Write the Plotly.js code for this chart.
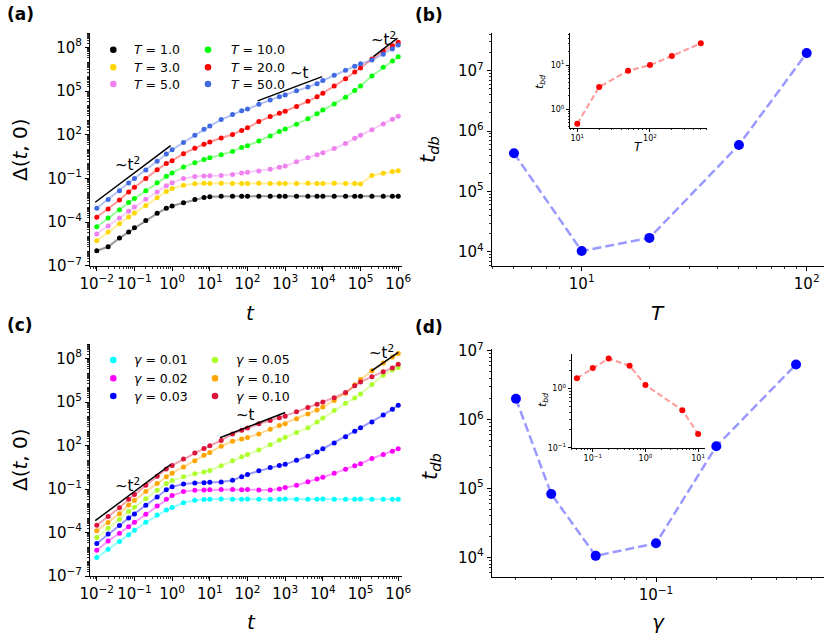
<!DOCTYPE html>
<html><head><meta charset="utf-8">
<script src="https://cdn.plot.ly/plotly-3.0.1.min.js"></script>
<style>body{margin:0;background:#fff}#plot{width:831px;height:642px}</style>
</head><body><div id="plot"></div>
<script>
// ---------- data: panel (a) ----------
const tGrid = [0.01,0.02,0.04,0.07, 0.1,0.2,0.4,0.7, 1,2,4,7, 10,20,40,70, 100,200,400,700,
  1e3,2e3,4e3,7e3, 1e4,2e4,4e4,7e4, 1e5,2e5,4e5,7e5, 1e6];
const labelsA = ['T = 1.0','T = 3.0','T = 5.0','T = 10.0','T = 20.0','T = 50.0'];
const dA_T1 = [1.07e-6,2.0e-6,7.9e-6,2.1e-5,4.0e-5,1.26e-4,4.0e-4,8.9e-4,1.26e-3,2.14e-3,3.55e-3,4.8e-3,5.5e-3,
  5.9e-3,6.0e-3,5.9e-3,5.95e-3,6.0e-3,5.9e-3,5.95e-3,5.9e-3,6.0e-3,5.95e-3,5.9e-3,5.95e-3,6.0e-3,5.9e-3,5.95e-3,5.9e-3,5.95e-3,5.9e-3,5.95e-3,5.9e-3];
const dA_T3 = [5.2e-6,2.1e-5,7.6e-5,2.2e-4,4.2e-4,1.4e-3,4.7e-3,1.26e-2,2.0e-2,3.4e-2,4.3e-2,4.6e-2,
  4.5e-2,4.6e-2,4.5e-2,4.4e-2,4.5e-2,4.6e-2,4.5e-2,4.5e-2,4.4e-2,4.5e-2,4.6e-2,4.5e-2,4.5e-2,4.6e-2,4.4e-2,4.5e-2,
  4.1e-2,0.16,0.23,0.30,0.34];
const dA_T5 = [1.5e-5,5.4e-5,1.9e-4,5.6e-4,1.1e-3,3.7e-3,1.17e-2,3.2e-2,5.0e-2,0.10,0.135,0.15,0.155,0.16,0.19,0.24,
  0.27,0.32,0.42,0.58,0.72,1.38,2.6,4.2,5.8,11.5,25,59,93,224,550,1170,1900];
const dA_T10 = [4.8e-5,1.9e-4,7.1e-4,2.2e-3,4.2e-3,1.41e-2,5.0e-2,0.141,0.24,0.60,1.2,2.0,2.6,4.2,7.2,13.2,17.8,38,83,
  166,251,525,1260,2800,5000,1.32e4,3.8e4,1.12e5,2.24e5,1.12e6,4.5e6,1.2e7,2.3e7];
const dA_T20 = [2.14e-4,7.9e-4,3.3e-3,1.17e-2,2.5e-2,0.10,0.40,1.05,1.66,5.0,12,22,32,60,105,200,300,830,1780,3000,
  4200,8900,2.0e4,4.2e4,7.2e4,2.24e5,7.1e5,2.1e6,4.0e6,1.66e7,5.75e7,1.32e8,2.3e8];
const dA_T50 = [8.9e-4,3.5e-3,1.41e-2,4.8e-2,0.10,0.38,1.51,4.8,9.3,30,93,240,400,1120,2500,4500,6000,1.26e4,2.5e4,
  4.2e4,5.5e4,1.05e5,1.9e5,3.3e5,5.4e5,1.26e6,2.8e6,5.2e6,7.6e6,1.38e7,3.5e7,7.9e7,1.5e8];
const colorsA = [[0,0,0],[255,215,0],[238,130,238],[0,255,0],[255,0,0],[65,105,225]];

// ---------- data: panel (c) ----------
const labelsC = ['γ = 0.01','γ = 0.02','γ = 0.03','γ = 0.05','γ = 0.10','γ = 0.10'];
const dC_g01 = [1.86e-6,7.1e-6,2.4e-5,7.1e-5,1.41e-4,5.0e-4,1.58e-3,3.55e-3,5.4e-3,1.12e-2,1.66e-2,1.9e-2,
  2.0e-2,2.05e-2,2.0e-2,1.95e-2,2.05e-2,2.0e-2,2.0e-2,1.95e-2,2.05e-2,2.0e-2,1.95e-2,2.0e-2,2.05e-2,2.0e-2,1.95e-2,
  2.0e-2,2.05e-2,1.95e-2,2.0e-2,2.0e-2,1.95e-2];
const dC_g02 = [6.0e-6,2.6e-5,8.9e-5,2.5e-4,5.0e-4,1.8e-3,6.6e-3,2.0e-2,3.5e-2,6.6e-2,8.3e-2,8.7e-2,8.9e-2,9.1e-2,9.3e-2,
  8.9e-2,9.1e-2,8.7e-2,8.7e-2,0.10,0.126,0.178,0.32,0.48,0.65,1.2,2.3,4.0,5.6,12.6,24,40,59];
const dC_g03 = [1.74e-5,7.8e-5,3.0e-4,1.0e-3,1.9e-3,7.6e-3,2.8e-2,8.9e-2,0.141,0.224,0.263,0.275,0.29,0.30,0.40,0.71,
  1.0,1.78,3.0,4.2,5.0,9.5,17.8,35,59,151,400,955,1660,4200,1.26e4,3.2e4,6.0e4];
const dC_g05 = [4.5e-5,2.0e-4,8.3e-4,2.8e-3,5.5e-3,2.14e-2,8.3e-2,0.24,0.38,0.69,1.12,1.51,1.9,4.0,8.9,16.6,24,48,112,
  240,370,794,1660,4170,7940,2.6e4,8.3e4,1.9e5,3.55e5,1.58e6,7.1e6,1.58e7,2.4e7];
const dC_g10a = [1.32e-4,4.9e-4,2.0e-3,7.9e-3,1.66e-2,6.6e-2,0.24,0.71,1.23,3.3,8.9,21,33,89,200,282,355,631,1320,
  2400,3160,7080,1.51e4,2.8e4,4.5e4,1.26e5,4.0e5,1.51e6,3.55e6,1.41e7,4.8e7,1.26e8,2.24e8];
const dC_g10b = [3.2e-4,1.29e-3,5.0e-3,2.0e-2,4.2e-2,0.178,0.76,2.4,4.2,11.5,30,63,95,224,631,1120,1580,3160,5250,
  8300,1.05e4,2.1e4,4.2e4,7.1e4,1.0e5,2.0e5,4.5e5,1.32e6,2.4e6,5.6e6,1.2e7,2.24e7,4.0e7];
const colorsC = [[0,255,255],[255,0,255],[0,0,255],[173,255,47],[255,165,0],[220,20,60]];

// ---------- guide lines ----------
const guideA = [
  {x:[0.0091,0.912], y:[2.3e-3,18.2]},
  {x:[186,9550], y:[2.14e4,1.0e6]},
  {x:[2.19e5,9.55e5], y:[2.4e7,4.47e8]}];
const guideC = [
  {x:[0.0091,0.912], y:[6.5e-4,4.9]},
  {x:[18.6,1000], y:[339,1.9e4]},
  {x:[1.95e5,1.0e6], y:[1.41e7,2.6e8]}];

// ---------- data: panel (b) ----------
const T_b = [5,10,20,50,100];
const tdb_b = [4.3e5,1.03e4,1.7e4,5.9e5,1.96e7];
const T_bIn = [10,20,50,100,200,500];
const tbd_bIn = [0.47,3.2,7.4,10,16,31];

// ---------- data: panel (d) ----------
const g_d = [0.02,0.03,0.05,0.1,0.2,0.5];
const tdb_d = [2.0e6,8.3e4,1.05e4,1.6e4,4.1e5,6.3e6];
const g_dIn = [0.05,0.1,0.2,0.5,1,5,10];
const tbd_dIn = [1.48,2.2,3.2,2.4,1.14,0.43,0.17];

// ---------- tick labels ----------
const tickX_ac = [1e-2,1e-1,1,10,1e2,1e3,1e4,1e5,1e6];
const tickY_ac = [1e-7,1e-4,1e-1,1e2,1e5,1e8];
const tickX_b = [10,100], tickY_b = [1e4,1e5,1e6,1e7];
const tickX_d = [0.1], tickY_d = [1e4,1e5,1e6,1e7];
const tickX_bIn = [10,100], tickY_bIn = [1,10];
const tickX_dIn = [0.1,1,10], tickY_dIn = [0.1,1];

// ---------- helpers ----------
const W = 831, H = 642;
const FONT = 'DejaVu Sans';
function pow10Label(v){
  const e = Math.round(Math.log10(v));
  return '10<sup>' + (e<0 ? '\u2212'+(-e) : e) + '</sup>';
}
function minorVals(lo, hi, majors){
  const out=[];
  for(let n=lo;n<=hi;n++) for(let k=1;k<=9;k++){
    const v=k*Math.pow(10,n);
    if(!majors.some(m=>Math.abs(m/v-1)<1e-9)) out.push(v);
  }
  return out;
}
function axis(domain, range, tv, anchor, fs, tl, mlo, mhi){
  return {type:'log', domain, range, anchor, tickmode:'array', tickvals:tv, ticktext:tv.map(pow10Label),
    showgrid:false, zeroline:false, showline:true, linecolor:'black', linewidth:1,
    ticks:'outside', ticklen:tl, tickwidth:1, tickcolor:'black',
    tickfont:{family:FONT, size:fs, color:'black'},
    minor:{tickmode:'array', tickvals:minorVals(mlo,mhi,tv), ticks:'outside', ticklen:tl*0.5, tickwidth:0.8, tickcolor:'black', showgrid:false},
    fixedrange:true};
}
const px = x => x/W, py = y => 1 - y/H;
const rgba = (c,a) => `rgba(${c[0]},${c[1]},${c[2]},${a})`;

const traces = [];
function addSeries(x, y, col, xa, ya){
  traces.push({x, y, xaxis:xa, yaxis:ya, mode:'lines', line:{color:rgba(col,0.4), width:2}, showlegend:false, hoverinfo:'skip'});
  traces.push({x, y, xaxis:xa, yaxis:ya, mode:'markers', marker:{color:rgba(col,1), size:5}, showlegend:false});
}
const seriesA = [dA_T1,dA_T3,dA_T5,dA_T10,dA_T20,dA_T50];
const seriesC = [dC_g01,dC_g02,dC_g03,dC_g05,dC_g10a,dC_g10b];
seriesA.forEach((d,i)=>addSeries(tGrid, d, colorsA[i], 'x','y'));
seriesC.forEach((d,i)=>addSeries(tGrid, d, colorsC[i], 'x3','y3'));
guideA.forEach(g=>traces.push({x:g.x, y:g.y, xaxis:'x', yaxis:'y', mode:'lines', line:{color:'black', width:1.5}, showlegend:false}));
guideC.forEach(g=>traces.push({x:g.x, y:g.y, xaxis:'x3', yaxis:'y3', mode:'lines', line:{color:'black', width:1.5}, showlegend:false}));

function addDashed(x, y, xa, ya, col, ms, lw, dash){
  traces.push({x, y, xaxis:xa, yaxis:ya, mode:'lines', line:{color:rgba(col,0.4), width:lw, dash}, showlegend:false});
  traces.push({x, y, xaxis:xa, yaxis:ya, mode:'markers', marker:{color:rgba(col,1), size:ms}, showlegend:false});
}
addDashed(T_b, tdb_b, 'x2','y2', [0,0,255], 10, 2.5, '9px,4px');
addDashed(g_d, tdb_d, 'x4','y4', [0,0,255], 10, 2.5, '9px,4px');
addDashed(T_bIn, tbd_bIn, 'x5','y5', [255,0,0], 6, 2, '6px,3px');
addDashed(g_dIn, tbd_dIn, 'x6','y6', [255,0,0], 6, 2, '6px,3px');

const layout = {
  width:W, height:H, margin:{l:0,r:0,t:0,b:0}, paper_bgcolor:'white', plot_bgcolor:'rgba(0,0,0,0)',
  showlegend:false,
  xaxis: axis([px(90),px(402)], [-2.18,6.1], tickX_ac, 'y', 15, 4, -3, 6),
  yaxis: axis([py(265.7),py(33)], [-7,9], tickY_ac, 'x', 15, 4, -8, 9),
  xaxis2: axis([px(491.7),px(824)], [0.6,2.077], tickX_b, 'y2', 15, 4, 0, 2),
  yaxis2: axis([py(265.7),py(33)], [3.77,7.625], tickY_b, 'x2', 15, 4, 3, 7),
  xaxis3: axis([px(90),px(402)], [-2.18,6.1], tickX_ac, 'y3', 15, 4, -3, 6),
  yaxis3: axis([py(576),py(344)], [-7,9], tickY_ac, 'x3', 15, 4, -8, 9),
  xaxis4: axis([px(491.7),px(824.3)], [-1.82,-0.16], tickX_d, 'y4', 15, 4, -2, 0),
  yaxis4: axis([py(577.3),py(349.3)], [3.71,7.02], tickY_d, 'x4', 15, 4, 3, 7),
  xaxis5: axis([px(570),px(706.7)], [0.9,2.78], tickX_bIn, 'y5', 8, 3, 0, 2),
  yaxis5: axis([py(127.7),py(32.7)], [-0.415,1.73], tickY_bIn, 'x5', 8, 3, -1, 1),
  xaxis6: axis([px(571.7),px(705)], [-1.40,1.13], tickX_dIn, 'y6', 8, 3, -2, 1),
  yaxis6: axis([py(447.7),py(354)], [-1.0,0.58], tickY_dIn, 'x6', 8, 3, -1, 0),
  annotations: [], shapes: []
};
function ann(text, x, y, size, opts){
  layout.annotations.push(Object.assign({text, x:px(x), y:py(y), xref:'paper', yref:'paper', showarrow:false,
    xanchor:'center', yanchor:'middle', font:{family:FONT, size, color:'black'}}, opts||{}));
}
// legends: marker dot + label, two columns of three
function legendBlock(labels, sym, colors, colX, textX, rowY){
  labels.forEach((lab,i)=>{
    const c = Math.floor(i/3), r = i%3;
    const cx = colX[c], cy = rowY[r], rad = 3.3;
    layout.shapes.push({type:'circle', xref:'paper', yref:'paper', x0:px(cx-rad), x1:px(cx+rad), y0:py(cy+rad), y1:py(cy-rad),
      fillcolor:rgba(colors[i],1), line:{width:0}});
    ann('<i>'+sym+'</i>'+lab.slice(1), textX[c], cy, 12.5, {xanchor:'left'});
  });
}
legendBlock(labelsA, 'T', colorsA, [113.3,208], [132,228.5], [49.8,67.2,84]);
legendBlock(labelsC, 'γ', colorsC, [113.3,215], [132,234], [360,378.3,396]);

ann('<b>(a)</b>', 20, 14, 17);
ann('<b>(b)</b>', 429, 15, 17);
ann('<b>(c)</b>', 20, 325, 17);
ann('<b>(d)</b>', 429, 327, 17);
ann('Δ(<i>t</i>, 0)', 20, 150, 20, {textangle:-90});
ann('Δ(<i>t</i>, 0)', 20, 460, 20, {textangle:-90});
ann('<i>t</i>', 250, 313, 20);
ann('<i>t</i>', 251, 622, 20);
ann('<i>T</i>', 658, 313, 20);
ann('<i>γ</i>', 658, 622, 20);
ann('<i>t</i><sub><i>db</i></sub>', 429, 150, 21, {textangle:-90});
ann('<i>t</i><sub><i>db</i></sub>', 431, 467, 21, {textangle:-90});
ann('<i>t</i><sub><i>bd</i></sub>', 540, 82, 11, {textangle:-90});
ann('<i>t</i><sub><i>bd</i></sub>', 543, 400, 11, {textangle:-90});
ann('<i>T</i>', 638, 147, 12);
ann('~t<sup>2</sup>', 127, 164, 15);
ann('~t', 299.5, 73, 15);
ann('~t<sup>2</sup>', 383, 39, 15);
ann('~t<sup>2</sup>', 127, 485, 15);
ann('~t', 245, 415, 15);
ann('~t<sup>2</sup>', 381, 352, 15);

Plotly.newPlot('plot', traces, layout, {displayModeBar:false, staticPlot:true});
</script></body></html>
